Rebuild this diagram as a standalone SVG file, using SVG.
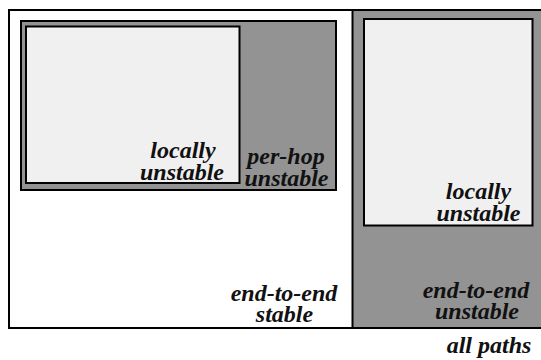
<svg xmlns="http://www.w3.org/2000/svg" width="541" height="360" viewBox="0 0 541 360">
<style>
.frame{stroke:#000;stroke-width:2}
.grey{fill:#939393}
.light{fill:#f0f0f0}
text{font-family:"Liberation Serif","Times New Roman",serif;font-style:italic;font-weight:bold;font-size:24px;fill:#111;text-anchor:middle}
</style>
<rect width="541" height="360" fill="#fff"/>
<g id="all-paths">
<rect class="frame" x="9" y="10" width="545" height="318" fill="#fff"/>
<text x="489" y="353">all paths</text>
</g>
<g id="end-to-end-unstable">
<rect class="grey" x="352.5" y="11" width="190" height="316"/>
<line class="frame" x1="352.5" y1="10" x2="352.5" y2="328"/>
<text x="476" y="298">end-to-end</text>
<text x="477" y="319">unstable</text>
</g>
<g id="end-to-end-stable">
<text x="284" y="301">end-to-end</text>
<text x="284.5" y="322">stable</text>
</g>
<g id="per-hop-unstable">
<rect class="frame grey" x="21" y="21" width="315" height="169"/>
<text x="286" y="164">per-hop</text>
<text x="286.5" y="186">unstable</text>
</g>
<g id="locally-unstable-left">
<rect class="frame light" x="26" y="26.5" width="213.5" height="156.5"/>
<text x="183" y="158">locally</text>
<text x="182" y="180">unstable</text>
</g>
<g id="locally-unstable-right">
<rect class="frame light" x="364" y="19" width="168.5" height="206.5"/>
<text x="478.5" y="199">locally</text>
<text x="478.5" y="221">unstable</text>
</g>
<g id="connectors"></g>
</svg>
